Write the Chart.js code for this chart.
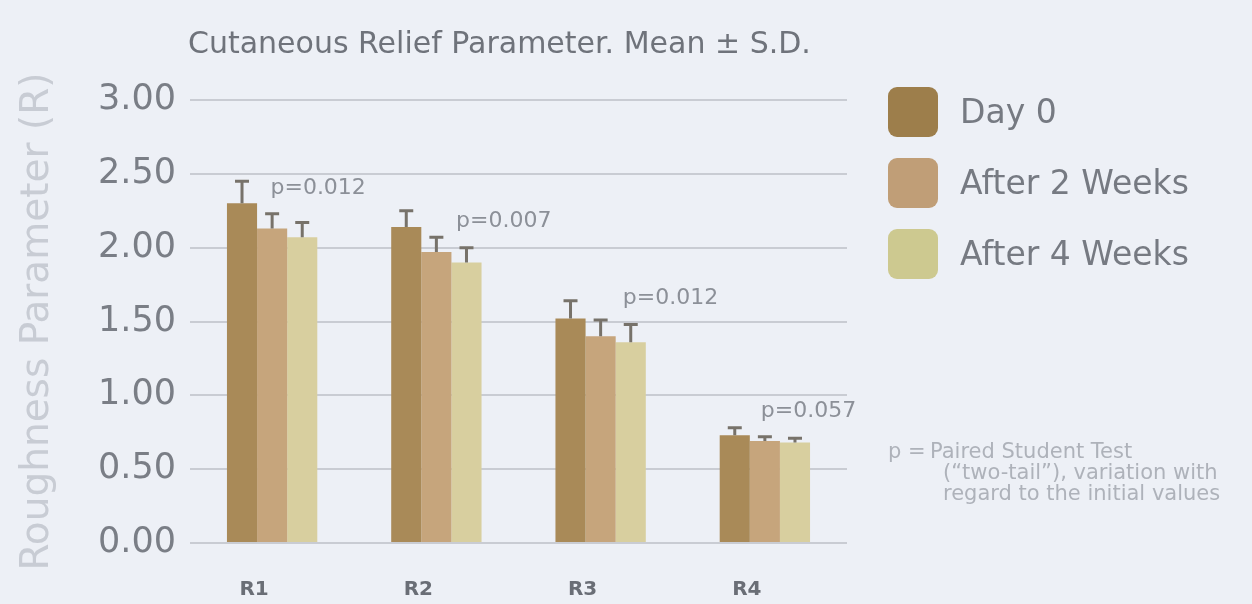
<!DOCTYPE html>
<html>
<head>
<meta charset="utf-8">
<script src="https://cdn.jsdelivr.net/npm/chart.js@4.4.1/dist/chart.umd.min.js"></script>
<style>
  html, body { margin: 0; padding: 0; }
  body { width: 1252px; height: 604px; background: #edf0f6; position: relative; overflow: hidden; font-family: "DejaVu Sans", sans-serif; }
  #wrap { position: absolute; left: 0; top: 0; width: 1252px; height: 604px; }
  #legend { position: absolute; left: 888px; top: 76px; }
  .item { display: flex; align-items: center; height: 71px; }
  .sw { width: 50px; height: 50px; border-radius: 9px; margin-right: 22px; }
  .lt { font-size: 33px; color: #767a82; white-space: nowrap; }
  #note { position: absolute; left: 888px; top: 441px; font-size: 21px; line-height: 21px; color: #aeb2ba; white-space: nowrap; }
  #note .row { display: flex; }
  #note .p { width: 42px; flex-shrink: 0; }
  #note .i { width: 55px; flex-shrink: 0; }
</style>
</head>
<body>
<div id="wrap"><canvas id="c" width="1252" height="604"></canvas></div>
<div id="legend"></div>
<div id="note">
  <div class="row"><span class="p">p =</span><span>Paired Student Test</span></div>
  <div class="row"><span class="i"></span><span>(“two-tail”), variation with</span></div>
  <div class="row"><span class="i"></span><span>regard to the initial values</span></div>
</div>
<script>
const categories = ['R1', 'R2', 'R3', 'R4'];
const seriesNames = ['Day 0', 'After 2 Weeks', 'After 4 Weeks'];
const day0 = [2.30, 2.14, 1.52, 0.73];
const week2 = [2.13, 1.97, 1.40, 0.69];
const week4 = [2.07, 1.90, 1.36, 0.68];
const sdDay0 = [0.15, 0.11, 0.12, 0.05];
const sdWeek2 = [0.10, 0.10, 0.11, 0.03];
const sdWeek4 = [0.10, 0.10, 0.12, 0.03];
const pLabels = ['p=0.012', 'p=0.007', 'p=0.012', 'p=0.057'];
const pLabelValue = [2.40, 2.18, 1.66, 0.89];
const yTicks = [0, 0.5, 1, 1.5, 2, 2.5, 3];
const titleText = 'Cutaneous Relief Parameter. Mean ± S.D.';
const yTitle = 'Roughness Parameter (R)';

const colors = ['#a98a58', '#c6a57c', '#d8cf9f'];
const legendColors = ['#9d7e4b', '#c09e77', '#cdc990'];
const pLabelShift = [-0.01, 0.12, 0.135, -0.025];

const leg = document.getElementById('legend');
seriesNames.forEach((n, i) => {
  const d = document.createElement('div'); d.className = 'item';
  d.innerHTML = '<div class="sw" style="background:' + legendColors[i] + '"></div><div class="lt">' + n + '</div>';
  leg.appendChild(d);
});

const errorBars = {
  id: 'errorBars',
  afterDatasetsDraw(chart) {
    const ctx = chart.ctx, y = chart.scales.y;
    chart.data.datasets.forEach((ds, i) => {
      const meta = chart.getDatasetMeta(i);
      meta.data.forEach((el, j) => {
        const top = y.getPixelForValue(ds.data[j] + ds.sd[j]);
        ctx.save();
        ctx.strokeStyle = '#77726a';
        ctx.lineWidth = 3;
        ctx.beginPath();
        ctx.moveTo(el.x, el.y);
        ctx.lineTo(el.x, top);
        ctx.moveTo(el.x - 7, top);
        ctx.lineTo(el.x + 7, top);
        ctx.stroke();
        ctx.restore();
      });
    });
  }
};

const annotations = {
  id: 'annotations',
  afterDraw(chart) {
    const ctx = chart.ctx, x = chart.scales.x, y = chart.scales.y, a = chart.chartArea;
    const catW = (a.right - a.left) / categories.length;
    ctx.save();
    ctx.fillStyle = '#8c9098';
    ctx.font = '22px "DejaVu Sans"';
    ctx.textBaseline = 'middle';
    ctx.textAlign = 'left';
    pLabels.forEach((t, i) => {
      ctx.fillText(t, x.getPixelForValue(i) + pLabelShift[i] * catW, y.getPixelForValue(pLabelValue[i]));
    });
    ctx.fillStyle = '#6f737b';
    ctx.font = '30px "DejaVu Sans"';
    ctx.textBaseline = 'middle';
    ctx.fillText(titleText, a.left - 2, 45);
    ctx.restore();
  }
};

new Chart(document.getElementById('c'), {
  type: 'bar',
  data: {
    labels: categories,
    datasets: [
      { label: seriesNames[0], data: day0, sd: sdDay0, backgroundColor: colors[0] },
      { label: seriesNames[1], data: week2, sd: sdWeek2, backgroundColor: colors[1] },
      { label: seriesNames[2], data: week4, sd: sdWeek4, backgroundColor: colors[2] }
    ]
  },
  options: {
    responsive: false,
    animation: false,
    layout: { padding: { top: 100, right: 405, bottom: 0, left: 0 } },
    plugins: { legend: { display: false }, title: { display: false }, tooltip: { enabled: false } },
    datasets: { bar: { barPercentage: 1, categoryPercentage: 0.55 } },
    scales: {
      x: {
        afterFit(s) { s.height = 61; },
        grid: { display: false, drawTicks: false },
        border: { display: false },
        ticks: { color: '#6a6e76', font: { family: 'DejaVu Sans', size: 20, weight: 'bold' }, padding: 35, labelOffset: -18 }
      },
      y: {
        min: 0, max: 3,
        afterBuildTicks(s) { s.ticks = yTicks.map(v => ({ value: v })); },
        afterFit(s) { s.width = 190; },
        grid: { color: '#c9ccd3', lineWidth: 2, drawTicks: false },
        border: { display: false },
        ticks: { color: '#7a7e86', font: { family: 'DejaVu Sans', size: 35 }, padding: 14, callback: v => v.toFixed(2) },
        title: { display: true, text: yTitle, color: '#c8ccd4', font: { family: 'DejaVu Sans', size: 39 }, padding: { top: 14, bottom: 0 } }
      }
    }
  },
  plugins: [errorBars, annotations]
});
</script>
</body>
</html>
